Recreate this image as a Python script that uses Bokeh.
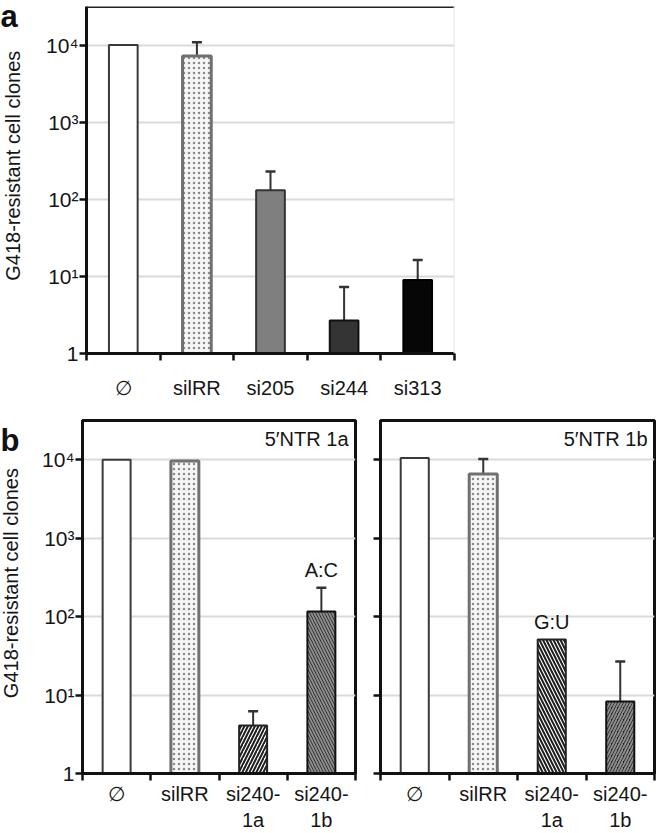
import math
from bokeh.plotting import figure
from bokeh.models import (ColumnDataSource, Range1d, FixedTicker, Whisker, TeeHead, Label, Span)
from bokeh.layouts import column, row
from bokeh.embed import file_html
from bokeh.resources import INLINE
from bokeh.core.properties import value

FONT = "Liberation Sans"
TXT = "#151515"

# ---------------- data ----------------
a_categories = ["∅", "silRR", "si205", "si244", "si313"]
a_values = [10000, 7200, 131, 2.67, 9.0]
a_err_upper = [None, 10900, 230, 7.3, 16.3]

b_categories = ["∅", "silRR", "si240-1a", "si240-1b"]
b_tick_labels = ["∅", "silRR", "si240-\n1a", "si240-\n1b"]
b1_title = "5′NTR 1a"
b1_values = [10000, 9600, 4.1, 116]
b1_err_upper = [None, None, 6.2, 234]
b1_notes = ["", "", "", "A:C"]
b2_title = "5′NTR 1b"
b2_values = [10500, 6600, 51, 8.3]
b2_err_upper = [None, 10200, None, 26.7]
b2_notes = ["", "", "G:U", ""]

y_ticks = [1, 10, 100, 1000, 10000]
y_tick_labels = ["1", "10¹", "10²", "10³", "10⁴"]
y_label = "G418-resistant cell clones"
y_top = 10 ** 4.5

# ---------------- styles ----------------
WHITE = dict(fill="#ffffff", line="#3a3a3a", hatch="blank", hcol="#000000", hscale=6, hweight=1, lw=2)
DOTS = dict(fill="#f6f6f6", line="#707070", hatch="dot", hcol="#8a8a8a", hscale=5, hweight=1.6, lw=3)
a_styles = [
    WHITE, DOTS,
    dict(fill="#7f7f7f", line="#333333", hatch="blank", hcol="#000000", hscale=6, hweight=1, lw=2),
    dict(fill="#343434", line="#111111", hatch="blank", hcol="#000000", hscale=6, hweight=1, lw=2),
    dict(fill="#060606", line="#000000", hatch="blank", hcol="#000000", hscale=6, hweight=1, lw=2),
]
LIGHT_R = dict(fill="#ffffff", line="#222222", hatch="right_diagonal_line", hcol="#1e1e1e", hscale=7, hweight=2.0, lw=2)
LIGHT_L = dict(fill="#ffffff", line="#222222", hatch="left_diagonal_line", hcol="#1e1e1e", hscale=7, hweight=2.0, lw=2)
DARK_L = dict(fill="#1a1a1a", line="#111111", hatch="left_diagonal_line", hcol="#8c8c8c", hscale=6, hweight=2, lw=2)
DARK_R = dict(fill="#1a1a1a", line="#111111", hatch="right_diagonal_line", hcol="#8c8c8c", hscale=6, hweight=2, lw=2)
b1_styles = [WHITE, DOTS, LIGHT_R, DARK_L]
b2_styles = [WHITE, DOTS, LIGHT_L, DARK_R]

SIDE_W = 26  # width of the strip holding panel letter + y-axis title


def side_strip(height, letter, letter_baseline_from_top, title_center_from_top, title_x):
    s = figure(width=SIDE_W, height=height, x_range=Range1d(0, SIDE_W), y_range=Range1d(0, height),
               x_axis_location=None, y_axis_location=None, title=None,
               min_border_left=0, min_border_right=0, min_border_top=0, min_border_bottom=0,
               toolbar_location=None, output_backend="svg", outline_line_color=None,
               background_fill_color="white", border_fill_color="white")
    s.xgrid.visible = False
    s.ygrid.visible = False
    s.text(x=[0], y=[height - letter_baseline_from_top], text=[letter], text_align="left",
           text_baseline="alphabetic", text_font=value(FONT), text_font_size="31px",
           text_font_style="bold", text_color="#111111")
    s.text(x=[title_x], y=[height - title_center_from_top], text=[y_label], angle=math.pi / 2,
           text_align="center", text_baseline="middle", text_font=value(FONT),
           text_font_size="20px", text_color=TXT)
    return s


def make_panel(cats, labels, vals, errs, notes, styles, bar_w, fw, fh, bl, br, bt, bb,
               show_ylabels, boxed, xlab_standoff, corner=None):
    n = len(cats)
    centers = [i + 0.5 for i in range(n)]
    edges = list(range(n + 1))
    p = figure(x_range=Range1d(0, n), y_range=Range1d(1, y_top), y_axis_type="log",
               width=bl + fw + br, height=bt + fh + bb, title=None,
               min_border_left=bl, min_border_right=br, min_border_top=bt, min_border_bottom=bb,
               toolbar_location=None, output_backend="svg",
               background_fill_color="white", border_fill_color="white")
    x_axis = p.xaxis[0]
    y_axis = p.yaxis[0]

    p.xgrid.visible = False
    p.ygrid.grid_line_color = "#dadada"
    p.ygrid.grid_line_width = 2

    y_axis.ticker = FixedTicker(ticks=y_ticks)
    y_axis.minor_tick_line_color = None
    y_axis.major_tick_in = 0
    y_axis.major_tick_out = 7
    y_axis.major_tick_line_width = 2.5
    y_axis.major_tick_line_color = "#111111"
    y_axis.axis_line_width = 3
    y_axis.axis_line_color = "#111111"
    if show_ylabels:
        y_axis.major_label_overrides = dict(zip(y_ticks, y_tick_labels))
        y_axis.major_label_text_font = FONT
        y_axis.major_label_text_font_size = "21px"
        y_axis.major_label_text_color = TXT
        y_axis.major_label_standoff = 1
    else:
        y_axis.major_label_text_color = None
        y_axis.major_label_standoff = 0

    # x axis: labels at bar centres, tick marks (minor) at category edges
    x_axis.ticker = FixedTicker(ticks=centers, minor_ticks=edges)
    x_axis.major_label_overrides = dict(zip(centers, labels))
    x_axis.major_tick_line_color = None
    x_axis.major_tick_out = 0
    x_axis.major_tick_in = 0
    x_axis.minor_tick_line_color = "#111111"
    x_axis.minor_tick_line_width = 2.5
    x_axis.minor_tick_out = 7
    x_axis.minor_tick_in = 0
    x_axis.axis_line_width = 3
    x_axis.axis_line_color = "#111111"
    x_axis.major_label_text_font = FONT
    x_axis.major_label_text_font_size = "20px"
    x_axis.major_label_text_color = TXT
    x_axis.major_label_standoff = xlab_standoff

    if boxed:
        p.outline_line_color = "#111111"
        p.outline_line_width = 3
        p.outline_line_alpha = 1
    else:
        p.outline_line_color = None
        p.add_layout(Span(location=y_top, dimension="width", line_color="#222222", line_width=3))
        p.add_layout(Span(location=n, dimension="height", line_color="#e4e4e4", line_width=2))

    src = ColumnDataSource(dict(
        x=centers, cat=cats, val=vals,
        fill=[s["fill"] for s in styles], line=[s["line"] for s in styles],
        hatch=[s["hatch"] for s in styles], hcol=[s["hcol"] for s in styles],
        hscale=[s["hscale"] for s in styles], hweight=[s["hweight"] for s in styles],
        lw=[s["lw"] for s in styles],
    ))
    p.vbar(x="x", top="val", bottom=1, width=bar_w, source=src,
           fill_color="fill", line_color="line", line_width="lw",
           hatch_pattern="hatch", hatch_color="hcol", hatch_scale="hscale", hatch_weight="hweight")

    ex, el, eu = [], [], []
    for x, v, e in zip(centers, vals, errs):
        if e is not None:
            ex.append(x); el.append(v); eu.append(e)
    if ex:
        esrc = ColumnDataSource(dict(x=ex, lo=el, hi=eu))
        p.add_layout(Whisker(base="x", lower="lo", upper="hi", source=esrc, dimension="height",
                             line_color="#333333", line_width=2, lower_head=None,
                             upper_head=TeeHead(size=10, line_width=2.5, line_color="#333333")))

    nx, ny, nt = [], [], []
    for x, v, e, t in zip(centers, vals, errs, notes):
        if t:
            nx.append(x); ny.append(max(v, e) if e is not None else v); nt.append(t)
    if nx:
        nsrc = ColumnDataSource(dict(x=nx, y=ny, t=nt))
        p.text(x="x", y="y", text="t", source=nsrc, text_align="center", text_baseline="bottom",
               y_offset=-7, text_font=value(FONT), text_font_size="20px", text_color=TXT)

    if corner:
        p.add_layout(Label(x=fw - 7, y=fh - 8, x_units="screen", y_units="screen", text=corner,
                           text_align="right", text_baseline="top", text_font=FONT,
                           text_font_size="20px", text_color=TXT))
    return p


# panel a: frame x 86..454, y 6..355 ; row height 401
pa = make_panel(a_categories, a_categories, a_values, a_err_upper, [""] * 5, a_styles, 0.39,
                fw=368, fh=349, bl=86 - SIDE_W, br=10, bt=6, bb=46, show_ylabels=True,
                boxed=False, xlab_standoff=16)
sa = side_strip(401, "a", 12, 184, 12)

# panel b: frames x 82..355 and 380..654, y 420..774 ; row height 432
pb1 = make_panel(b_categories, b_tick_labels, b1_values, b1_err_upper, b1_notes, b1_styles, 0.41,
                 fw=273, fh=354, bl=82 - SIDE_W, br=10, bt=19, bb=59, show_ylabels=True,
                 boxed=True, xlab_standoff=2, corner=b1_title)
pb2 = make_panel(b_categories, b_tick_labels, b2_values, b2_err_upper, b2_notes, b2_styles, 0.41,
                 fw=274, fh=354, bl=15, br=2, bt=19, bb=59, show_ylabels=False,
                 boxed=True, xlab_standoff=2, corner=b2_title)
sb = side_strip(432, "b", 25, 199, 10)

layout = column(row(sa, pa, spacing=0), row(sb, pb1, pb2, spacing=0), spacing=0)
open("out.html", "w").write(file_html(layout, INLINE))
